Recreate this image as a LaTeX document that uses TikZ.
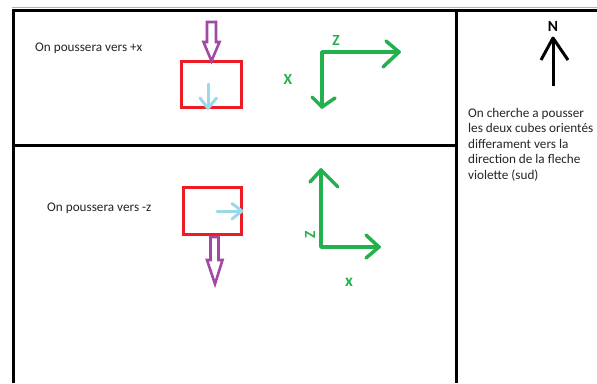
\documentclass[tikz,border=0pt]{standalone}
\usepackage{fontspec}
\setmainfont{Carlito}
\begin{document}
\begin{tikzpicture}[x=1pt,y=-1pt,
  frame/.style={line width=3pt,black},
  cube/.style={draw={rgb,255:red,237;green,28;blue,36},line width=3pt},
  push/.style={draw={rgb,255:red,163;green,73;blue,164},line width=2.6pt,line join=miter},
  motion/.style={draw={rgb,255:red,153;green,217;blue,234},line width=3pt,line cap=round,line join=round},
  axis/.style={draw={rgb,255:red,34;green,177;blue,76},line width=3.5pt,line cap=round,line join=round},
  axlabel/.style={text={rgb,255:red,34;green,177;blue,76},font=\fontsize{15.5}{15.5}\selectfont\bfseries,inner sep=0pt},
  note/.style={font=\fontsize{13.2}{15.5}\selectfont,inner sep=0pt,text=black!85},
  north/.style={draw=black,line width=3pt,line join=round}]
\useasboundingbox (0,0) rectangle (597,383);
\fill[white] (0,0) rectangle (597,383);

% outer frame and panels
\draw[gray!60,line width=1.2pt] (12,7.2) -- (597,7.2);
\draw[frame] (13.5,383) -- (13.5,10) -- (597,10);
\draw[frame] (12,145.5) -- (456,145.5);
\draw[frame] (456,10) -- (456,383);

% upper panel
\node[note,anchor=west] (t1) at (35,48) {On poussera vers +x};
\draw[cube] (181,61) rectangle (241,107);
\draw[push] (207,22) -- (216,22) -- (216,42) -- (219.5,42) -- (211.5,61) -- (203.5,42) -- (207,42) -- cycle;
\draw[motion] (208,84) -- (208,108);
\draw[motion] (200,98) -- (208,108.5) -- (216.5,98);

\coordinate (o1) at (322,52);
\coordinate (z1) at (399,52);
\coordinate (x1) at (322,107);
\draw[axis] (x1) -- (o1) -- (z1);
\draw[axis] (386,41) -- (z1) -- (383,67);
\draw[axis] (312,97) -- (x1) -- (335,98);
\node[axlabel] (lz1) at (336,40) {Z};
\node[axlabel] (lx1) at (288,79) {X};

% lower panel
\node[note,anchor=west] (t2) at (47,208) {On poussera vers -z};
\draw[cube] (183.5,187) rectangle (241,234);
\draw[motion] (217,211) -- (241,211);
\draw[motion] (232,203.5) -- (242,211) -- (232,219);
\draw[push] (210.5,237) -- (218.5,237) -- (218.5,260) -- (222.5,260) -- (215,284) -- (207,260) -- (210.5,260) -- cycle;

\coordinate (o2) at (321,247);
\coordinate (z2) at (321,170);
\coordinate (x2) at (379,247);
\draw[axis] (z2) -- (o2) -- (x2);
\draw[axis] (310,182) -- (z2) -- (338,187);
\draw[axis] (366,235) -- (x2) -- (366,258);
\node[axlabel,rotate=90] (lz2) at (310,235) {Z};
\node[axlabel,font=\fontsize{17}{17}\selectfont\bfseries] (lx2) at (349,282) {x};

% compass and explanation
\node[font=\fontsize{15.5}{15.5}\selectfont\bfseries,inner sep=0pt] (N) at (553,26) {N};
\coordinate (nb) at (553,86);
\coordinate (nt) at (553,38);
\draw[north] (nb) -- (nt);
\draw[north] (541,60) -- (nt) -- (568,60);
\node[note,anchor=north west,align=left] (expl) at (468,108) {On cherche a pousser\\les deux cubes orientés\\differament vers la\\direction de la fleche\\violette (sud)};
\end{tikzpicture}
\end{document}
